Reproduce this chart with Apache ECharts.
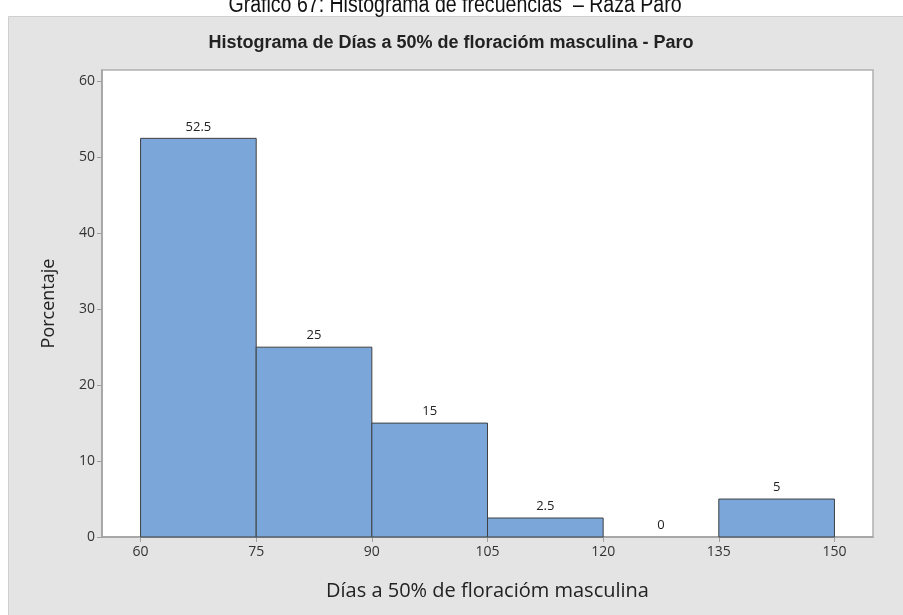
<!DOCTYPE html>
<html>
<head>
<meta charset="utf-8">
<script src="https://cdn.jsdelivr.net/npm/echarts@6/dist/echarts.min.js"></script>
<style>html,body{margin:0;padding:0;background:#fff;}#c{width:903px;height:615px;}</style>
</head>
<body>
<div id="c"></div>
<script>
var binStarts = [60, 75, 90, 105, 120, 135];
var binEnds = [75, 90, 105, 120, 135, 150];
var percentages = [52.5, 25, 15, 2.5, 0, 5];
var xTicks = [60, 75, 90, 105, 120, 135, 150];
var yTicks = [0, 10, 20, 30, 40, 50, 60];

var data = binStarts.map(function (s, i) { return [s, binEnds[i], percentages[i]]; });

var chart = echarts.init(document.getElementById('c'), null, { renderer: 'canvas' });
var labelFont = "'Open Sans', 'Noto Sans', sans-serif";
chart.setOption({
  backgroundColor: '#ffffff',
  animation: false,
  graphic: [
    { type: 'rect', z: -10, shape: { x: 8.5, y: 16.5, width: 900, height: 610 },
      style: { fill: '#e4e4e4', stroke: '#cfcfcf', lineWidth: 1 } },
    { type: 'text', x: 455, y: 6, scaleX: 0.85, style: { text: 'Gráfico 67: Histograma de frecuencias  – Raza Paro',
      font: "23px 'Liberation Sans', Arial, sans-serif", fill: '#111', align: 'center', verticalAlign: 'middle' } },
    { type: 'text', x: 451, y: 43, style: { text: 'Histograma de Días a 50% de floracióm masculina - Paro',
      font: "bold 18px 'Liberation Sans Narrow', 'Liberation Sans', Arial, sans-serif", fill: '#222', align: 'center', verticalAlign: 'middle' } }
  ],
  grid: { left: 102, right: 30, top: 70, bottom: 78, show: true, backgroundColor: '#ffffff', borderColor: '#b0b0b0', borderWidth: 1.5 },
  xAxis: {
    type: 'value', min: 55, max: 155,
    name: 'Días a 50% de floracióm masculina', nameLocation: 'middle', nameGap: 44,
    nameTextStyle: { fontFamily: labelFont, fontSize: 20, color: '#222' },
    axisLine: { show: true, lineStyle: { color: '#a0a0a0', width: 1.5 } },
    axisTick: { show: true, length: 5, customValues: xTicks, lineStyle: { color: '#a0a0a0' } },
    axisLabel: { customValues: xTicks, fontFamily: labelFont, fontSize: 14, color: '#333', margin: 8 },
    splitLine: { show: false }
  },
  yAxis: {
    type: 'value', min: 0, max: 61.5,
    name: 'Porcentaje', nameLocation: 'middle', nameGap: 44,
    nameTextStyle: { fontFamily: labelFont, fontSize: 18, color: '#222' },
    axisLine: { show: true, lineStyle: { color: '#a0a0a0', width: 1.5 } },
    axisTick: { show: true, length: 5, customValues: yTicks, lineStyle: { color: '#a0a0a0' } },
    axisLabel: { customValues: yTicks, fontFamily: labelFont, fontSize: 14, color: '#333', margin: 7 },
    splitLine: { show: false }
  },
  series: [{
    type: 'custom',
    data: data,
    encode: { x: [0, 1], y: 2 },
    renderItem: function (params, api) {
      var s = api.value(0), e = api.value(1), v = api.value(2);
      var p0 = api.coord([s, v]);
      var p1 = api.coord([e, 0]);
      var children = [];
      if (v > 0) {
        children.push({ type: 'rect', shape: { x: p0[0], y: p0[1], width: p1[0] - p0[0], height: p1[1] - p0[1] },
          style: { fill: '#7ba6d9', stroke: '#404040', lineWidth: 1 } });
      }
      children.push({ type: 'text', x: (p0[0] + p1[0]) / 2, y: p0[1] - 5,
        style: { text: String(v), font: "13px " + labelFont, fill: '#222', align: 'center', verticalAlign: 'bottom' } });
      return { type: 'group', children: children };
    }
  }]
});
</script>
</body>
</html>
